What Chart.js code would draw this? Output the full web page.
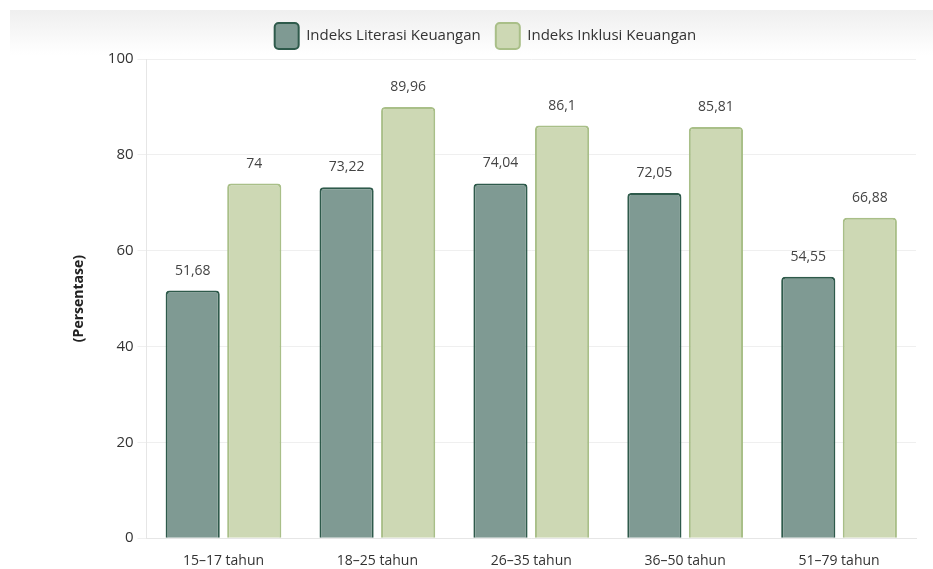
<!DOCTYPE html>
<html>
<head>
<meta charset="utf-8">
<script src="https://cdn.jsdelivr.net/npm/chart.js@4/dist/chart.umd.min.js"></script>
<style>
  html, body { margin: 0; padding: 0; background: #fff; }
  #wrap { position: relative; width: 933px; height: 569px; }
  #band { position: absolute; left: 10px; top: 10px; width: 923px; height: 45px;
          background: linear-gradient(to bottom, #efefef, #ffffff); }
  canvas { position: absolute; left: 0; top: 0; }
</style>
</head>
<body>
<div id="wrap">
  <div id="band"></div>
  <canvas id="chart" width="933" height="569"></canvas>
</div>
<script>
const categories = ['15–17 tahun', '18–25 tahun', '26–35 tahun', '36–50 tahun', '51–79 tahun'];
const literasi = [51.68, 73.22, 74.04, 72.05, 54.55];
const inklusi = [74, 89.96, 86.1, 85.81, 66.88];
const yTicks = [0, 20, 40, 60, 80, 100];

const fontFamily = '"Open Sans", sans-serif';

// draw value labels above each bar
const valueLabels = {
  id: 'valueLabels',
  afterDatasetsDraw(chart) {
    const ctx = chart.ctx;
    ctx.save();
    ctx.font = '14px ' + fontFamily;
    ctx.fillStyle = '#444';
    ctx.textAlign = 'center';
    ctx.textBaseline = 'middle';
    chart.data.datasets.forEach((ds, i) => {
      chart.getDatasetMeta(i).data.forEach((bar, j) => {
        const txt = String(ds.data[j]).replace('.', ',');
        ctx.fillText(txt, bar.x, bar.y - 20);
      });
    });
    ctx.restore();
  }
};

new Chart(document.getElementById('chart'), {
  type: 'bar',
  data: {
    labels: categories,
    datasets: [
      {
        label: 'Indeks Literasi Keuangan',
        data: literasi,
        backgroundColor: '#7f9a93',
        borderColor: '#2e5a4b',
        borderWidth: 2,
        borderRadius: 4,
        barPercentage: 0.88,
        categoryPercentage: 0.8
      },
      {
        label: 'Indeks Inklusi Keuangan',
        data: inklusi,
        backgroundColor: '#cdd8b4',
        borderColor: '#a9bf88',
        borderWidth: 2,
        borderRadius: 4,
        barPercentage: 0.88,
        categoryPercentage: 0.8
      }
    ]
  },
  options: {
    responsive: false,
    animation: false,
    layout: { padding: { left: 55, right: 17, top: 8, bottom: -14 } },
    plugins: {
      legend: {
        position: 'top',
        labels: {
          boxWidth: 24,
          boxHeight: 26,
          useBorderRadius: true,
          borderRadius: 4,
          padding: 15,
          color: '#333',
          font: { family: fontFamily, size: 15 }
        }
      },
      tooltip: { enabled: false }
    },
    scales: {
      x: {
        grid: { display: false, drawTicks: false },
        border: { color: '#e6e6e6' },
        ticks: { color: '#333', font: { family: fontFamily, size: 14 }, padding: 14 }
      },
      y: {
        min: 0,
        max: 100,
        afterBuildTicks: (axis) => { axis.ticks = yTicks.map(v => ({ value: v })); },
        grid: { color: '#efefef', tickLength: 9 },
        border: { color: '#e6e6e6' },
        ticks: { color: '#333', font: { family: fontFamily, size: 15 }, padding: 4 },
        title: {
          display: true,
          text: '(Persentase)',
          color: '#222',
          font: { family: fontFamily, size: 14, weight: 'bold' },
          padding: 16
        }
      }
    }
  },
  plugins: [valueLabels]
});
</script>
</body>
</html>
